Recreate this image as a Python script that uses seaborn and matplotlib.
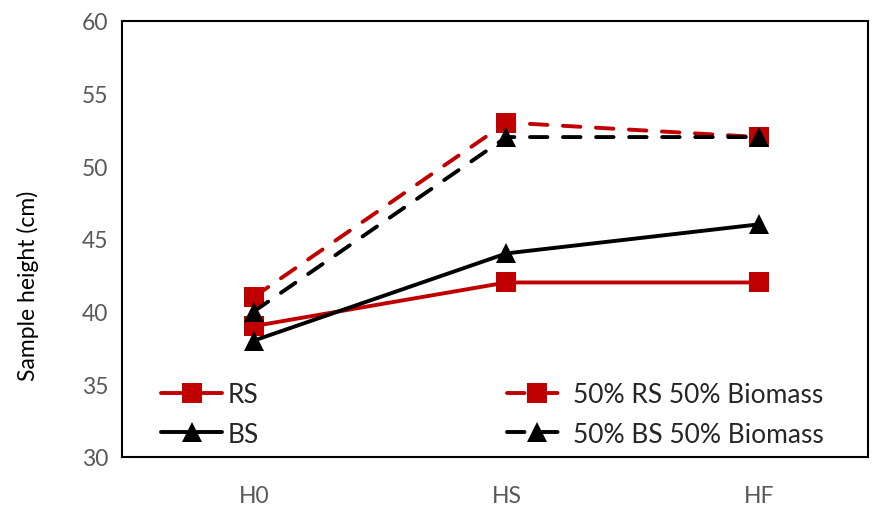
import pandas as pd
import seaborn as sns
import matplotlib.pyplot as plt

# data
stages = ['H0', 'HS', 'HF']
rs = [39, 42, 42]
rs_bio = [41, 53, 52]
bs = [38, 44, 46]
bs_bio = [40, 52, 52]
series_names = ['RS', '50% RS 50% Biomass', 'BS', '50% BS 50% Biomass']

frames = []
for name, vals in zip(series_names, [rs, rs_bio, bs, bs_bio]):
    frames.append(pd.DataFrame({'stage': stages, 'height': vals, 'series': name}))
df = pd.concat(frames, ignore_index=True)

sns.set_style('white')
plt.rcParams['font.family'] = ['Lato', 'DejaVu Sans']
plt.rcParams['lines.dash_capstyle'] = 'round'

red = '#C00000'
palette = {'RS': red, '50% RS 50% Biomass': red, 'BS': 'black', '50% BS 50% Biomass': 'black'}
markers = {'RS': 's', '50% RS 50% Biomass': 's', 'BS': '^', '50% BS 50% Biomass': '^'}
dashes = {'RS': '', '50% RS 50% Biomass': (4.5, 4), 'BS': '', '50% BS 50% Biomass': (4.5, 4)}

fig = plt.figure(figsize=(8.74, 5.06), dpi=100)
ax = fig.add_axes([0.14, 0.095, 0.853, 0.862])

sns.lineplot(data=df, x='stage', y='height', hue='series', style='series',
             hue_order=series_names, style_order=series_names,
             palette=palette, markers=markers, dashes=dashes,
             linewidth=2.8, markersize=14, markeredgewidth=0, ax=ax)

ax.set_ylim(30, 60)
ax.set_yticks(range(30, 61, 5))
ax.set_xlim(-0.52, 2.43)
ax.set_xlabel('')
ax.set_ylabel('Sample height (cm)', fontsize=16.5, color='black')
ax.yaxis.set_label_coords(-0.112, 0.394)
ax.tick_params(axis='both', length=0, labelsize=16.5, labelcolor='#595959')
ax.tick_params(axis='x', pad=20)
ax.tick_params(axis='y', pad=10)

for side in ['left', 'right', 'top', 'bottom']:
    ax.spines[side].set_visible(True)
    ax.spines[side].set_color('black')
    ax.spines[side].set_linewidth(1.5)

# legend: RS / BS in the first column, the mixes in the second
handles, labels = ax.get_legend_handles_labels()
lookup = dict(zip(labels, handles))
order = ['RS', 'BS', '50% RS 50% Biomass', '50% BS 50% Biomass']
ax.legend([lookup[k] for k in order], order, ncol=2, loc='lower left',
          bbox_to_anchor=(0.024, -0.025), frameon=False, borderpad=0.3,
          fontsize=19, handlelength=2.3, columnspacing=9.4, labelspacing=0.55,
          handletextpad=0.2)

fig.savefig('out.png', dpi=100)
